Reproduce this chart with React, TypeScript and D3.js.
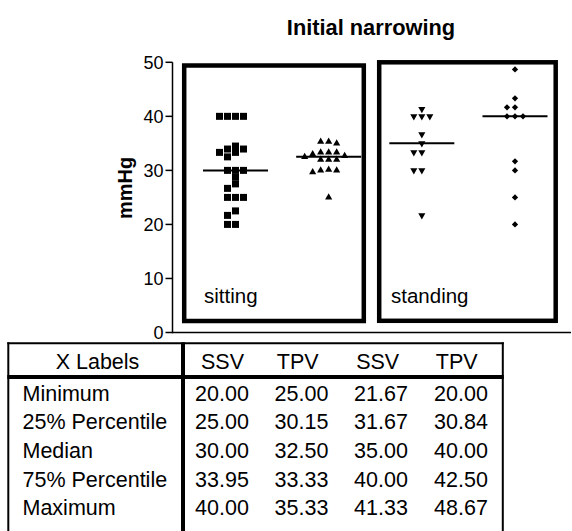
import React from "react";
import * as d3 from "d3";

// ---------- data ----------
const groups = ["sitting SSV", "sitting TPV", "standing SSV", "standing TPV"];
const ssvSitting = [40, 40, 40, 40, 34.5, 33.95, 33.95, 33.33, 33.33, 32.5, 30, 30, 30, 28.75, 27.5, 26.67, 25, 25, 25, 22.5, 21.67, 20, 20];
const tpvSitting = [35.33, 35.33, 35, 33.33, 33.33, 33.33, 33, 32.67, 32.5, 32, 32, 32, 30.15, 30, 30, 29.67, 25];
const ssvStanding = [41.33, 40, 40, 40, 36.67, 35, 33.33, 33.33, 30, 30, 21.67];
const tpvStanding = [48.67, 43.33, 41.67, 41.67, 40, 40, 40, 31.67, 30, 25, 20];
const groupValues = [ssvSitting, tpvSitting, ssvStanding, tpvStanding];

const panelLabels = ["sitting", "standing"];
const yTicks = [0, 10, 20, 30, 40, 50];

const tableHeader = ["X Labels", "SSV", "TPV", "SSV", "TPV"];
const rowLabels = ["Minimum", "25% Percentile", "Median", "75% Percentile", "Maximum"];
const minimums = ["20.00", "25.00", "21.67", "20.00"];
const p25 = ["25.00", "30.15", "31.67", "30.84"];
const medians = ["30.00", "32.50", "35.00", "40.00"];
const p75 = ["33.95", "33.33", "40.00", "42.50"];
const maximums = ["40.00", "35.33", "41.33", "48.67"];
const tableRows = [minimums, p25, medians, p75, maximums];

// ---------- layout ----------
const W = 572;
const H = 531;
const FONT = "Arial, 'Liberation Sans', Helvetica, sans-serif";

const y = d3.scaleLinear().domain([0, 50]).range([332.5, 62.3]);
const x = d3.scalePoint<string>().domain(groups).range([235.5, 515]);

const symbols = [
  d3.symbol().type(d3.symbolSquare).size(49)(),
  d3.symbol().type(d3.symbolTriangle).size(22)(),
  d3.symbol().type(d3.symbolTriangle).size(22)(),
  d3.symbol().type(d3.symbolDiamond2).size(25)(),
];
const rotations = [0, 0, 180, 0];

const SLOT = 8;
const HIT = 6;

function swarm(values: number[]) {
  const order = values.map((v, i) => i).sort((a, b) => values[b] - values[a]);
  const placed: { slot: number; py: number }[] = [];
  const slots = new Array(values.length).fill(0);
  for (const i of order) {
    const py = y(values[i]);
    for (let k = 0; k < 40; k++) {
      const s = k === 0 ? 0 : (k % 2 === 1 ? -(k + 1) / 2 : k / 2);
      if (!placed.some((p) => p.slot === s && Math.abs(p.py - py) < HIT)) {
        placed.push({ slot: s, py });
        slots[i] = s;
        break;
      }
    }
  }
  return slots;
}

export default function App() {
  const yAxisX = 172.5;
  const colValX = [222, 301.5, 381, 461];
  const colHeadX = [222.5, 297.7, 377.7, 456.7];
  const rowY = d3.range(rowLabels.length).map((i) => 393 + i * 28.6);
  const TF = 21.5;

  return (
    <svg
      width={W}
      height={H}
      viewBox={`0 0 ${W} ${H}`}
      style={{ position: "absolute", left: 0, top: 0, background: "#fff" }}
      fontFamily={FONT}
    >
      <rect x={0} y={0} width={W} height={H} fill="#fff" />
      {/* title */}
      <text x={371} y={35} textAnchor="middle" fontSize={21.8} fontWeight="bold" fill="#000">
        Initial narrowing
      </text>

      {/* y label */}
      <text
        transform={`translate(132,188) rotate(-90)`}
        textAnchor="middle"
        fontSize={20}
        fontWeight="bold"
        fill="#000"
      >
        mmHg
      </text>

      {/* y axis */}
      <line x1={yAxisX} x2={yAxisX} y1={y(50)} y2={y(0) + 0.75} stroke="#000" strokeWidth={1.5} />
      {yTicks.map((t) => (
        <g key={t}>
          <line x1={yAxisX - 7} x2={yAxisX} y1={y(t)} y2={y(t)} stroke="#000" strokeWidth={1.5} />
          <text x={yAxisX - 9} y={y(t)} dy="0.36em" textAnchor="end" fontSize={18} fill="#000">
            {t}
          </text>
        </g>
      ))}
      {/* x axis */}
      <line x1={yAxisX} x2={571} y1={y(0)} y2={y(0)} stroke="#000" strokeWidth={1.5} />

      {/* panel boxes */}
      <rect x={184.2} y={65.5} width={179.6} height={255.5} fill="none" stroke="#000" strokeWidth={4.5} />
      <rect x={379.2} y={62.3} width={176.5} height={258.5} fill="none" stroke="#000" strokeWidth={4.5} />
      <text x={204} y={303} fontSize={20.5} fill="#000">{panelLabels[0]}</text>
      <text x={391} y={303} fontSize={20.5} fill="#000">{panelLabels[1]}</text>

      {/* points */}
      {groupValues.map((vals, gi) => {
        const slots = swarm(vals);
        const cx = x(groups[gi]) as number;
        return (
          <g key={gi}>
            {vals.map((v, i) => (
              <path
                key={i}
                d={symbols[gi] as string}
                transform={`translate(${cx + slots[i] * SLOT},${y(v)}) rotate(${rotations[gi]})`}
                fill="#000"
              />
            ))}
            <line
              x1={cx - 32.5}
              x2={cx + 32.5}
              y1={y(+medians[gi])}
              y2={y(+medians[gi])}
              stroke="#000"
              strokeWidth={2}
            />
          </g>
        );
      })}

      {/* table */}
      <line x1={8.3} x2={8.3} y1={342.3} y2={H + 5} stroke="#000" strokeWidth={2} />
      <line x1={502.8} x2={502.8} y1={342.3} y2={H + 5} stroke="#000" strokeWidth={2} />
      <line x1={7.3} x2={503.8} y1={343.3} y2={343.3} stroke="#000" strokeWidth={2} />
      <line x1={7.3} x2={503.8} y1={377} y2={377} stroke="#000" strokeWidth={4} />
      <line x1={183} x2={183} y1={342.3} y2={H + 5} stroke="#000" strokeWidth={4} />

      <text x={97.5} y={361} dy="0.36em" textAnchor="middle" fontSize={TF} fill="#000">{tableHeader[0]}</text>
      {tableHeader.slice(1).map((h, i) => (
        <text key={i} x={colHeadX[i]} y={361} dy="0.36em" textAnchor="middle" fontSize={TF} fill="#000">{h}</text>
      ))}
      {rowLabels.map((r, ri) => (
        <g key={ri}>
          <text x={22.5} y={rowY[ri]} dy="0.36em" fontSize={TF} fill="#000">{r}</text>
          {tableRows[ri].map((v, ci) => (
            <text key={ci} x={colValX[ci]} y={rowY[ri]} dy="0.36em" textAnchor="middle" fontSize={TF} fill="#000">{v}</text>
          ))}
        </g>
      ))}
    </svg>
  );
}
